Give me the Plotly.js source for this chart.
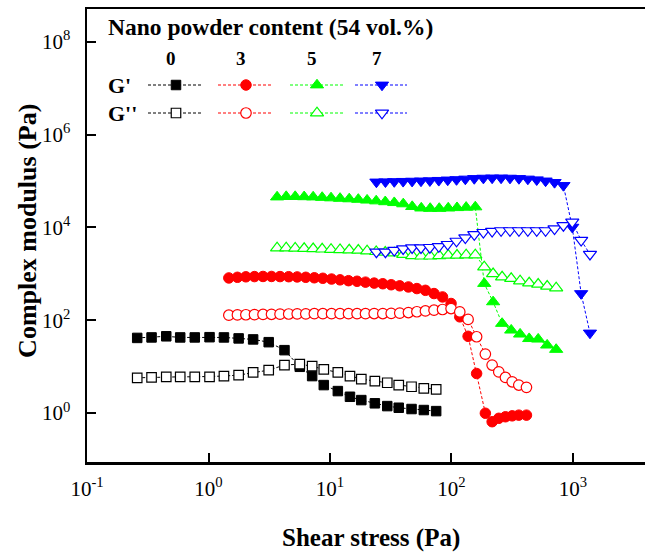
<!DOCTYPE html>
<html>
<head>
<meta charset="utf-8">
<script src="https://cdn.plot.ly/plotly-3.0.1.min.js"></script>
<style>
html,body{margin:0;padding:0;overflow:hidden;background:#fff;}
#chart{width:660px;height:557px;}
</style>
</head>
<body>
<div id="chart"></div>
<script>
// ---- data (shear stress in Pa, modulus in Pa) ----
var x0 = [0.259,0.340,0.449,0.585,0.771,1.02,1.34,1.77,2.33,3.13,4.22,5.64,7.13,8.89,11.6,14.6,18.1,23.4,29.6,36.8,46.9,59.2,74.8];
var gp0 = [41.5,42.5,45,42.5,42.5,43,42.5,40.5,38.5,33.6,22.6,9.9,6.25,4.0,2.97,2.24,1.9,1.62,1.41,1.3,1.22,1.16,1.1];
var gpp0 = [5.74,5.85,6.03,6.03,6.03,6.03,6.25,6.56,7.5,8.4,10.8,11.3,10.2,8.7,7.5,6.25,5.4,4.88,4.49,4.0,3.68,3.4,3.23];

var x3 = [1.47,1.73,2.03,2.39,2.81,3.30,3.88,4.57,5.37,6.32,7.43,8.73,10.3,12.1,14.2,16.7,19.6,23.1,27.2,31.9,37.5,44.2,51.9,61.0,71.8,84.4,99.2,117,137,161,190,216,245,278,316,358,414];
var gp3 = [813,840,860,870,875,875,870,865,855,840,820,800,770,740,710,690,660,630,610,580,550,520,480,440,375,317,229,118,45,7.1,0.99,0.65,0.77,0.83,0.87,0.9,0.9];
var gpp3 = [128,130,131,132,133,134,135,136,137,137,138,138,138,138,138,138,138,139,139,140,142,146,152,158,164,170,178,151,104,44,18.6,10.8,7.7,5.85,4.7,4.0,3.57];

var x5 = [3.67,4.36,5.17,6.13,7.27,8.62,10.2,12.1,14.4,17.1,20.2,24.0,28.5,33.8,40.1,47.5,56.4,66.8,79.3,94.0,111,132,157,186,220,261,310,367,436,517,613,727];
var gp5 = [45000,46000,46000,45500,45000,44000,43000,42000,41000,40000,38500,37000,35500,34000,32000,28000,26000,25500,25500,26000,26500,27000,27500,617,248,85,61,50,40,39,29,23.4];
var gpp5 = [3600,3600,3550,3500,3450,3400,3350,3300,3250,3200,3100,3000,2900,2800,2600,2450,2400,2400,2450,2500,2500,2550,2550,1400,1000,850,789,700,632,594,537,495];

var x7 = [24.1,28.6,33.8,40.0,47.4,56.1,66.4,78.6,93.1,110,130,154,183,216,256,303,359,425,503,595,705,834,986,1167,1380];
var gp7 = [95000,96000,97000,98000,99000,100000,101000,103000,105000,107000,110000,113000,115000,116000,116000,115000,113000,110000,106000,100000,93000,80000,10100,375,53];
var gpp7 = [2950,2950,3200,3470,3650,3650,3700,3850,4300,5050,5950,7000,7800,8200,8500,8500,8500,8500,8500,8500,9300,11000,13000,5250,2640];

var contents = ['0','3','5','7'];
var colors = ['#000000','#ff0000','#00ff00','#0000ff'];
var xTickVals = [0.1,1,10,100,1000];
var xTickText = ['10<sup>-1</sup>','10<sup>0</sup>','10<sup>1</sup>','10<sup>2</sup>','10<sup>3</sup>'];
var yTickVals = [1,100,1e4,1e6,1e8];
var yTickText = ['10<sup>0</sup>','10<sup>2</sup>','10<sup>4</sup>','10<sup>6</sup>','10<sup>8</sup>'];

// ---- styling ----
var symFilled = ['square','circle','triangle-up','triangle-down'];
var sizes = [9.5,10.5,11.5,11.5];
var dashPat = '3px,2px';
var serif = '"Liberation Serif","Times New Roman",serif';

var xs = [x0,x3,x5,x7];
var gps = [gp0,gp3,gp5,gp7];
var gpps = [gpp0,gpp3,gpp5,gpp7];

var traces = [];
for (var i = 0; i < 4; i++) {
  traces.push({
    x: xs[i], y: gps[i], type: 'scatter', mode: 'lines+markers',
    line: {color: colors[i], width: 1, dash: dashPat},
    marker: {symbol: symFilled[i], size: sizes[i], color: colors[i], line: {color: colors[i], width: 1}},
    hoverinfo: 'skip', showlegend: false
  });
  traces.push({
    x: xs[i], y: gpps[i], type: 'scatter', mode: 'lines+markers',
    line: {color: colors[i], width: 1, dash: dashPat},
    marker: {symbol: symFilled[i], size: sizes[i], color: '#ffffff', line: {color: colors[i], width: 1.2}},
    hoverinfo: 'skip', showlegend: false
  });
}

// ---- hand-made legend (pixel overlay axes) ----
var legCols = [[148,176,201],[218,246,272],[290,317,343],[355,382,407]];
var legRows = [85,113];
var annotations = [];
for (var c = 0; c < 4; c++) {
  for (var r = 0; r < 2; r++) {
    var seg = legCols[c];
    traces.push({
      x: [seg[0], seg[2]], y: [legRows[r], legRows[r]], xaxis: 'x2', yaxis: 'y2',
      type: 'scatter', mode: 'lines', line: {color: colors[c], width: 1, dash: dashPat},
      hoverinfo: 'skip', showlegend: false
    });
    traces.push({
      x: [seg[1]], y: [legRows[r]], xaxis: 'x2', yaxis: 'y2',
      type: 'scatter', mode: 'markers',
      marker: {symbol: symFilled[c], size: sizes[c], color: r === 0 ? colors[c] : '#ffffff', line: {color: colors[c], width: r === 0 ? 1 : 1.2}},
      hoverinfo: 'skip', showlegend: false
    });
  }
  annotations.push({xref: 'x2', yref: 'y2', x: legCols[c][1] - 5, y: 58, text: contents[c], showarrow: false,
    xanchor: 'center', yanchor: 'middle', font: {family: serif, size: 19, color: '#000', weight: 'bold'}});
}
annotations.push({xref: 'x2', yref: 'y2', x: 106, y: 27, text: 'Nano powder content (54 vol.%)', showarrow: false,
  xanchor: 'left', yanchor: 'middle', font: {family: serif, size: 23.5, color: '#000', weight: 'bold'}});
annotations.push({xref: 'x2', yref: 'y2', x: 106, y: legRows[0], text: "G'", showarrow: false,
  xanchor: 'left', yanchor: 'middle', font: {family: serif, size: 22, color: '#000', weight: 'bold'}});
annotations.push({xref: 'x2', yref: 'y2', x: 106, y: legRows[1], text: "G''", showarrow: false,
  xanchor: 'left', yanchor: 'middle', font: {family: serif, size: 22, color: '#000', weight: 'bold'}});
// axis titles
annotations.push({xref: 'paper', yref: 'paper', x: 0.5, y: -0.167, text: 'Shear stress (Pa)', showarrow: false,
  xanchor: 'center', yanchor: 'middle', font: {family: serif, size: 25, color: '#000', weight: 'bold'}});
annotations.push({xref: 'paper', yref: 'paper', x: -0.104, y: 0.51, text: 'Complex modulus (Pa)', showarrow: false,
  textangle: -90, xanchor: 'center', yanchor: 'middle', font: {family: serif, size: 26, color: '#000', weight: 'bold'}});

var axisCommon = {
  type: 'log', showgrid: false, zeroline: false, showline: true, linecolor: '#000', linewidth: 2.5,
  mirror: true, ticks: 'inside', ticklen: 9, tickwidth: 2, tickcolor: '#000',
  tickmode: 'array', tickfont: {family: serif, size: 21, color: '#000'}
};

var layout = {
  width: 660, height: 557,
  margin: {l: 87, r: 5, t: 9, b: 95},
  paper_bgcolor: '#fff', plot_bgcolor: '#fff',
  xaxis: Object.assign({}, axisCommon, {range: [-1, 3.675], tickvals: xTickVals, ticktext: xTickText, ticklabelstandoff: 6}),
  yaxis: Object.assign({}, axisCommon, {range: [-1.055, 8.704], tickvals: yTickVals, ticktext: yTickText, ticklabelstandoff: 10}),
  xaxis2: {overlaying: 'x', anchor: 'y2', range: [87, 655], visible: false, fixedrange: true},
  yaxis2: {overlaying: 'y', anchor: 'x2', range: [462, 9], visible: false, fixedrange: true},
  annotations: annotations,
  showlegend: false
};

Plotly.newPlot('chart', traces, layout, {staticPlot: true, displayModeBar: false});
</script>
</body>
</html>
